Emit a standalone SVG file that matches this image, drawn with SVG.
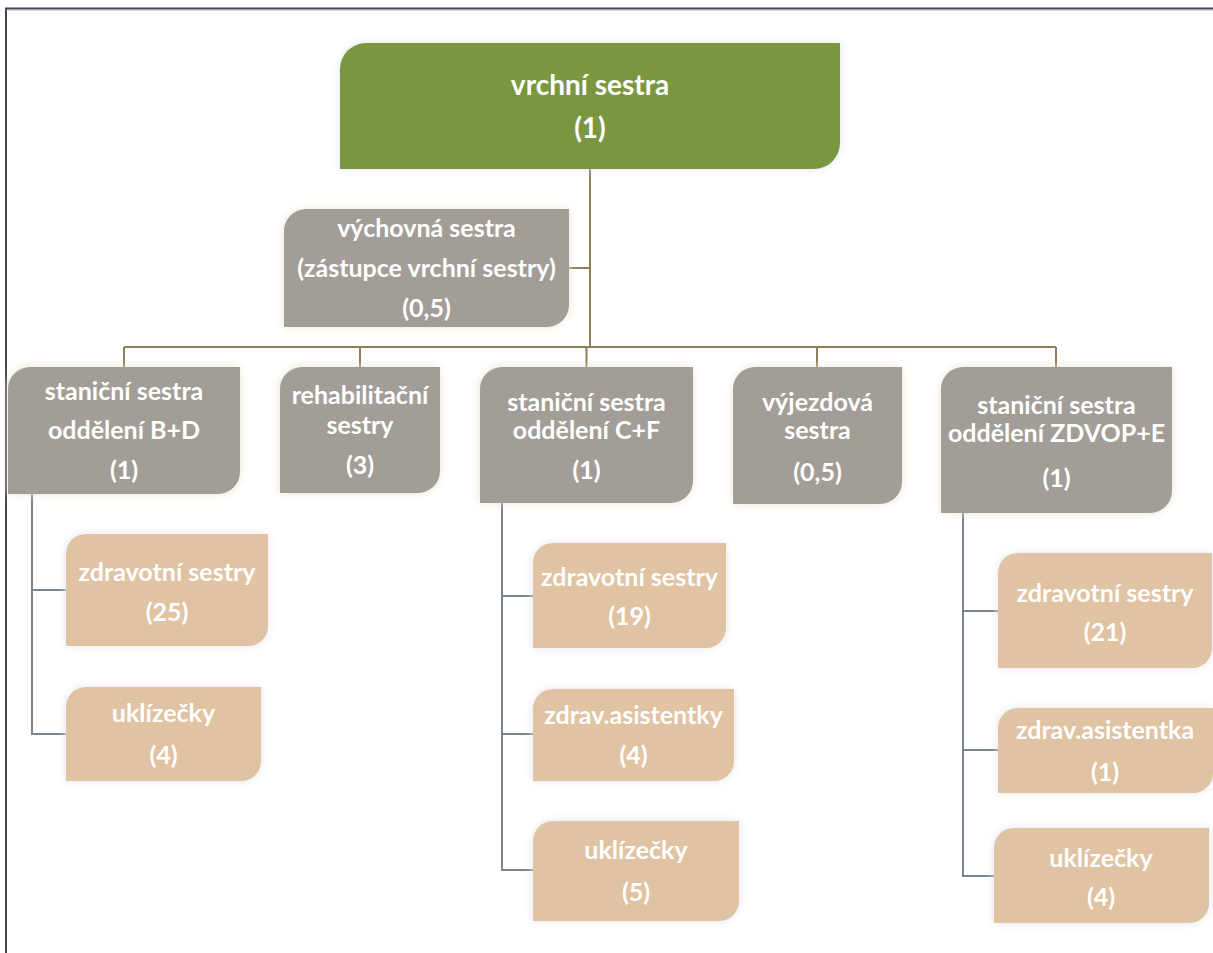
<svg xmlns="http://www.w3.org/2000/svg" width="1213" height="953" viewBox="0 0 1213 953">
<style>
text{font-family:Lato,"Open Sans","Noto Sans",sans-serif;font-weight:bold;fill:#ffffff;text-anchor:middle;font-size:25px}
.t{font-size:28px}
.green{fill:#7A973F}
.grey{fill:#A29E97}
.tan{fill:#E0C3A3}
.up{stroke:#8E7F5A;stroke-width:2;fill:none}
.low{stroke:#7D8491;stroke-width:2;fill:none}
.frame{stroke:#45455a;stroke-width:2;fill:none}
</style>
<defs>
<filter id="glowG" x="-10%" y="-15%" width="120%" height="130%">
<feDropShadow dx="0" dy="0" stdDeviation="4" flood-color="#e6e2c8" flood-opacity="0.9"/>
</filter>
<filter id="glowT" x="-10%" y="-15%" width="120%" height="130%">
<feDropShadow dx="0" dy="0" stdDeviation="4" flood-color="#dde2ea" flood-opacity="0.9"/>
</filter>
<filter id="glowV" x="-10%" y="-15%" width="120%" height="130%">
<feDropShadow dx="0" dy="0" stdDeviation="4" flood-color="#e0e0ea" flood-opacity="0.9"/>
</filter>
</defs>
<rect width="1213" height="953" fill="#ffffff"/>
<g id="frame">
<path class="frame" d="M6,953 V8.5 H1213"/>
<path d="M8,10.5 H1213" stroke="#d0d0e4" stroke-width="1" fill="none"/>
</g>
<g id="connectors">
<path class="up" d="M590,169 V347"/>
<path class="up" d="M569,268 H590"/>
<path class="up" d="M124,347 H1056"/>
<path class="up" d="M124,347 V367 M360,347 V367 M586.5,347 V367 M817,347 V367 M1056,347 V367"/>
<path class="low" d="M32,494 V734 H66 M32,590 H66"/>
<path class="low" d="M502,503 V870 H533 M502,596 H533 M502,734 H533"/>
<path class="low" d="M963,513 V876 H994 M963,611 H998 M963,750 H998"/>
</g>
<g id="vrchni">
<path class="green" filter="url(#glowV)" d="M366,43 H840 V143 A26,26 0 0 1 814,169 H340 V69 A26,26 0 0 1 366,43 Z"/>
<text class="t" x="590" y="95">vrchní sestra</text>
<text class="t" x="590" y="138">(1)</text>
</g>
<g id="vychovna">
<path class="grey" filter="url(#glowG)" d="M306,209 H569 V305 A22,22 0 0 1 547,327 H284 V231 A22,22 0 0 1 306,209 Z"/>
<text x="426.5" y="237">výchovná sestra</text>
<text x="426.5" y="277">(zástupce vrchní sestry)</text>
<text x="426.5" y="317">(0,5)</text>
</g>
<g id="stanicni-bd">
<path class="grey" filter="url(#glowG)" d="M30,367 H240 V472 A22,22 0 0 1 218,494 H8 V389 A22,22 0 0 1 30,367 Z"/>
<text x="124" y="400">staniční sestra</text>
<text x="124" y="439">oddělení B+D</text>
<text x="124" y="479">(1)</text>
</g>
<g id="rehabilitacni">
<path class="grey" filter="url(#glowG)" d="M302,367 H440 V471 A22,22 0 0 1 418,493 H280 V389 A22,22 0 0 1 302,367 Z"/>
<text x="360" y="404">rehabilitační</text>
<text x="360" y="434">sestry</text>
<text x="360" y="474">(3)</text>
</g>
<g id="stanicni-cf">
<path class="grey" filter="url(#glowG)" d="M502,367 H693 V481 A22,22 0 0 1 671,503 H480 V389 A22,22 0 0 1 502,367 Z"/>
<text x="586.5" y="411">staniční sestra</text>
<text x="586.5" y="439">oddělení C+F</text>
<text x="586.5" y="479">(1)</text>
</g>
<g id="vyjezdova">
<path class="grey" filter="url(#glowG)" d="M755,367 H902 V482 A22,22 0 0 1 880,504 H733 V389 A22,22 0 0 1 755,367 Z"/>
<text x="817.5" y="411">výjezdová</text>
<text x="817.5" y="439">sestra</text>
<text x="817.5" y="481">(0,5)</text>
</g>
<g id="stanicni-zdvop">
<path class="grey" filter="url(#glowG)" d="M963,367 H1172 V491 A22,22 0 0 1 1150,513 H941 V389 A22,22 0 0 1 963,367 Z"/>
<text x="1056.5" y="414">staniční sestra</text>
<text x="1056.5" y="442">oddělení ZDVOP+E</text>
<text x="1056.5" y="487">(1)</text>
</g>
<g id="zdravotni-bd">
<path class="tan" filter="url(#glowT)" d="M86,534 H268 V626 A20,20 0 0 1 248,646 H66 V554 A20,20 0 0 1 86,534 Z"/>
<text x="167" y="581">zdravotní sestry</text>
<text x="167" y="621">(25)</text>
</g>
<g id="uklizecky-bd">
<path class="tan" filter="url(#glowT)" d="M86,687 H261 V761 A20,20 0 0 1 241,781 H66 V707 A20,20 0 0 1 86,687 Z"/>
<text x="163.5" y="722">uklízečky</text>
<text x="163.5" y="764">(4)</text>
</g>
<g id="zdravotni-cf">
<path class="tan" filter="url(#glowT)" d="M553,543 H726 V628 A20,20 0 0 1 706,648 H533 V563 A20,20 0 0 1 553,543 Z"/>
<text x="629.5" y="586">zdravotní sestry</text>
<text x="629.5" y="625">(19)</text>
</g>
<g id="asistentky-cf">
<path class="tan" filter="url(#glowT)" d="M553,689 H734 V761 A20,20 0 0 1 714,781 H533 V709 A20,20 0 0 1 553,689 Z"/>
<text x="633.5" y="724">zdrav.asistentky</text>
<text x="633.5" y="764">(4)</text>
</g>
<g id="uklizecky-cf">
<path class="tan" filter="url(#glowT)" d="M553,821 H739 V901 A20,20 0 0 1 719,921 H533 V841 A20,20 0 0 1 553,821 Z"/>
<text x="636" y="859">uklízečky</text>
<text x="636" y="901">(5)</text>
</g>
<g id="zdravotni-zdvop">
<path class="tan" filter="url(#glowT)" d="M1018,553 H1212 V648 A20,20 0 0 1 1192,668 H998 V573 A20,20 0 0 1 1018,553 Z"/>
<text x="1105" y="602">zdravotní sestry</text>
<text x="1105" y="641">(21)</text>
</g>
<g id="asistentka-zdvop">
<path class="tan" filter="url(#glowT)" d="M1018,708 H1213 V773 A20,20 0 0 1 1193,793 H998 V728 A20,20 0 0 1 1018,708 Z"/>
<text x="1105" y="739">zdrav.asistentka</text>
<text x="1105" y="781">(1)</text>
</g>
<g id="uklizecky-zdvop">
<path class="tan" filter="url(#glowT)" d="M1014,828 H1209 V903 A20,20 0 0 1 1189,923 H994 V848 A20,20 0 0 1 1014,828 Z"/>
<text x="1101" y="867">uklízečky</text>
<text x="1101" y="906">(4)</text>
</g>
</svg>
